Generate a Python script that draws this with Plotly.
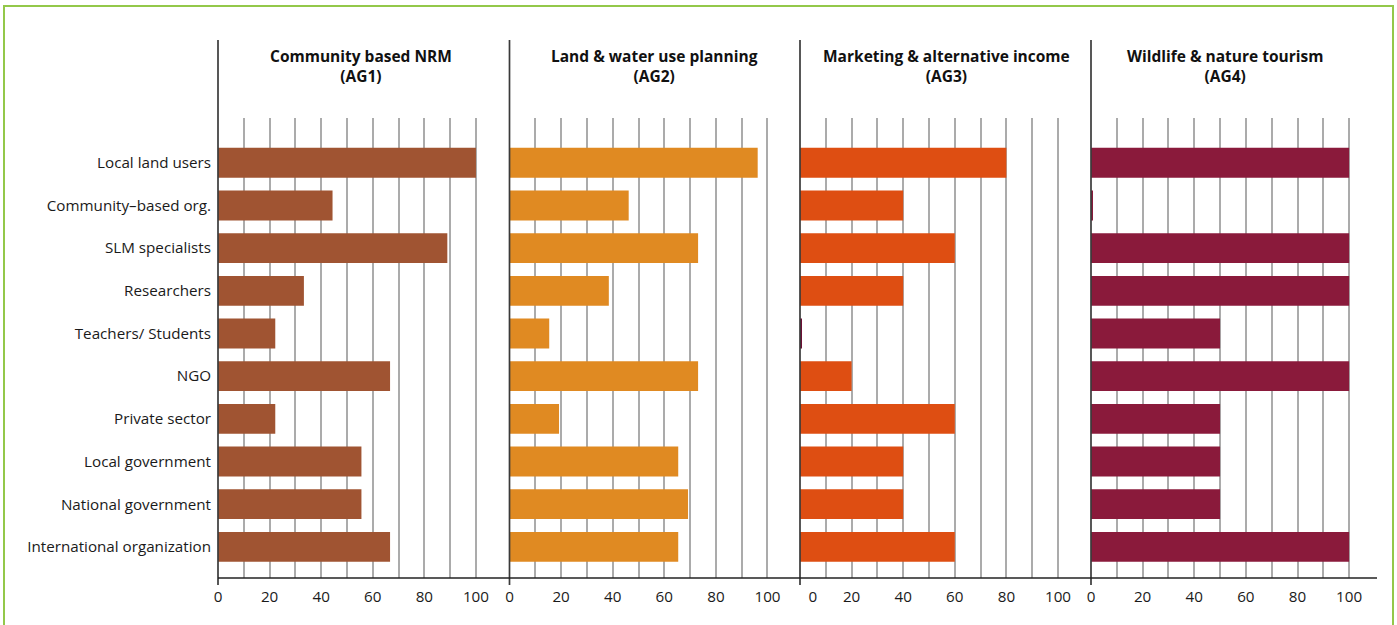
import plotly.graph_objects as go

categories = ["Local land users", "Community\u2013based org.", "SLM specialists", "Researchers",
              "Teachers/ Students", "NGO", "Private sector", "Local government",
              "National government", "International organization"]

panel_titles = ["Community based NRM<br>(AG1)", "Land & water use planning<br>(AG2)",
                "Marketing & alternative income<br>(AG3)", "Wildlife & nature tourism<br>(AG4)"]

ag1 = [100.0, 44.4, 88.9, 33.3, 22.2, 66.7, 22.2, 55.6, 55.6, 66.7]
ag2 = [96.2, 46.2, 73.1, 38.5, 15.4, 73.1, 19.2, 65.4, 69.2, 65.4]
ag3 = [80.0, 40.0, 60.0, 40.0, 0.7, 20.0, 60.0, 40.0, 40.0, 60.0]
ag4 = [100.0, 0.7, 100.0, 100.0, 50.0, 100.0, 50.0, 50.0, 50.0, 100.0]

tick_vals = [0, 20, 40, 60, 80, 100]
tick_text = ["0", "20", "40", "60", "80", "100"]

series = [ag1, ag2, ag3, ag4]
colors = ["#A05432", "#E08A22", "#DE4E12", "#8A1A3B"]
zero_colors = ["#A05432", "#E08A22", "#6B1035", "#8A1A3B"]

W, H = 1397, 625
# reference pixel geometry (page coordinates)
plot_left, plot_right, plot_top, plot_bottom = 218, 1377, 118, 578
L = plot_left
T = plot_top
R = W - plot_right
B = H - plot_bottom
pw = plot_right - plot_left
ph = plot_bottom - plot_top
bounds_px = [218, 509.5, 800, 1091, 1377]
domains = [[(bounds_px[i] - plot_left) / pw, (bounds_px[i + 1] - plot_left) / pw] for i in range(4)]
x_ranges = [[0, 113], [0, 112.6], [0, 112.8], [0, 110.8]]
title_x = [0.49, 0.5, 0.505, 0.467]

fig = go.Figure()
for i, vals in enumerate(series):
    bar_colors = [zero_colors[i] if v < 1 else colors[i] for v in vals]
    fig.add_trace(go.Bar(
        x=vals, y=categories, orientation="h",
        marker=dict(color=bar_colors, line=dict(width=0)),
        width=0.7, xaxis="x" if i == 0 else f"x{i+1}", yaxis="y",
        showlegend=False, hoverinfo="x+y",
    ))

font_family = "Open Sans, Noto Sans, DejaVu Sans, sans-serif"
layout = dict(
    width=W, height=H,
    margin=dict(l=L, r=R, t=T, b=B, pad=0),
    paper_bgcolor="white", plot_bgcolor="white",
    font=dict(family=font_family, size=15, color="#1a1a1a"),
    yaxis=dict(
        type="category", categoryorder="array", categoryarray=categories,
        range=[9.73, -1.05], showgrid=False, zeroline=False, showline=False,
        ticks="", ticklabelstandoff=6, tickfont=dict(size=15.2, color="#1a1a1a"),
    ),
)
shapes = []
annotations = []
for i in range(4):
    key = "xaxis" if i == 0 else f"xaxis{i+1}"
    tv = list(tick_vals)
    if i == 2:
        tv = [5] + tv[1:]
    layout[key] = dict(
        domain=domains[i], range=x_ranges[i], anchor="y",
        tickmode="array", tickvals=tv, ticktext=tick_text,
        showgrid=False, zeroline=False, showline=False, ticks="",
        ticklabelstandoff=8,
        tickfont=dict(size=15.2, color="#1a1a1a"),
        minor=dict(tickmode="array", tickvals=[10, 20, 30, 40, 50, 60, 70, 80, 90, 100],
                   showgrid=True, gridcolor="#ababab", gridwidth=1.5, ticks=""),
    )
    xref = "x" if i == 0 else f"x{i+1}"
    # vertical panel axis line
    shapes.append(dict(type="line", xref=f"{xref} domain", yref="paper",
                       x0=0, x1=0, y0=-7 / ph, y1=(plot_bottom - 40) / ph,
                       line=dict(color="#3a3a3a", width=1.7), layer="above"))
    annotations.append(dict(
        text="<b>" + panel_titles[i].replace("<br>", "</b><br><b>") + "</b>",
        xref=f"{xref} domain", yref="paper", x=title_x[i], y=(plot_bottom - 66) / ph,
        showarrow=False, xanchor="center", yanchor="middle",
        font=dict(size=15.5, color="#111111", family=font_family), align="center",
    ))

# horizontal axis line
shapes.append(dict(type="line", xref="paper", yref="paper", x0=0, x1=1, y0=0, y1=0,
                   line=dict(color="#222222", width=1.4), layer="above"))
# green frame
shapes.append(dict(type="rect", xref="paper", yref="paper",
                   x0=(4 - plot_left) / pw, x1=(1393 - plot_left) / pw,
                   y0=-0.3, y1=(plot_bottom - 6) / ph,
                   line=dict(color="#93C84A", width=2), fillcolor="rgba(0,0,0,0)", layer="below"))

layout["shapes"] = shapes
layout["annotations"] = annotations
fig.update_layout(**layout)
fig.write_html("out.html", config={"displayModeBar": False},
               post_script="document.body.style.margin='0';document.body.style.overflow='hidden';")
